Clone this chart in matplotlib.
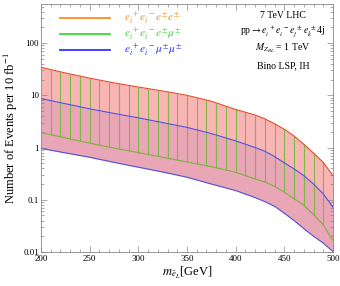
import numpy as np
import matplotlib.pyplot as plt
from matplotlib.ticker import MultipleLocator, LogLocator, FixedLocator, NullFormatter

plt.rcParams['font.family'] = ['Liberation Serif', 'DejaVu Serif']
plt.rcParams['mathtext.fontset'] = 'stix'

# slepton mass [GeV]
mass = [200, 225, 250, 275, 300, 325, 350, 375, 400, 420, 430, 440, 450, 460, 470, 480, 490, 500]

# events per 10 fb^-1
ee_upper = [34.4, 26.8, 21.3, 17.3, 14.4, 12.1, 10.0, 7.7, 5.35, 4.2, 3.55, 2.85, 2.24, 1.66, 1.16, 0.78, 0.52, 0.29]
mumu_upper = [8.65, 6.9, 5.5, 4.5, 3.7, 3.0, 2.43, 1.85, 1.34, 1.0, 0.85, 0.67, 0.51, 0.39, 0.29, 0.2, 0.13, 0.072]
emu_lower = [1.93, 1.53, 1.21, 0.98, 0.80, 0.65, 0.53, 0.43, 0.336, 0.25, 0.22, 0.18, 0.14, 0.105, 0.078, 0.052, 0.033, 0.0165]
mumu_lower = [0.96, 0.79, 0.65, 0.52, 0.42, 0.34, 0.27, 0.20, 0.15, 0.11, 0.092, 0.075, 0.055, 0.04, 0.028, 0.02, 0.0148, 0.0102]

hatch_x = np.arange(210, 500, 10)

fig = plt.figure(figsize=(3.4, 2.86), dpi=100)
ax = fig.add_axes([41 / 340, 34 / 286, 292 / 340, 248 / 286])

ax.fill_between(mass, mumu_upper, ee_upper, color='#f9b4b4', lw=0)
ax.fill_between(mass, mumu_lower, mumu_upper, color='#e8a6b6', lw=0)

# vertical hatching between the e-mu lower edge and the e-e upper edge
lo = 10 ** np.interp(hatch_x, mass, np.log10(emu_lower))
hi = 10 ** np.interp(hatch_x, mass, np.log10(ee_upper))
ax.vlines(hatch_x, lo, hi, color='#80b848', lw=0.8)

ax.plot(mass, ee_upper, color='#e0502c', lw=0.8)
ax.plot(mass, emu_lower, color='#80b040', lw=0.8)
ax.plot(mass, mumu_upper, color='#5050e0', lw=0.8)
ax.plot(mass, mumu_lower, color='#5050e0', lw=0.8)

ax.set_yscale('log')
ax.set_xlim(200, 500)
ax.set_ylim(0.01, 560)

ax.xaxis.set_major_locator(MultipleLocator(50))
ax.xaxis.set_minor_locator(MultipleLocator(10))
ax.yaxis.set_major_locator(FixedLocator([0.01, 0.1, 1, 10, 100]))
ax.yaxis.set_minor_locator(LogLocator(base=10, subs=np.arange(2, 10), numticks=20))
ax.yaxis.set_minor_formatter(NullFormatter())
ax.set_yticklabels(['0.01', '0.1', '1', '10', '100'])
ax.tick_params(which='both', direction='in', top=True, right=True, labelsize=6.5,
               color='#888888', width=0.5, pad=1.5)
ax.tick_params(axis='x', which='both', pad=2.5)
ax.tick_params(which='major', length=4)
ax.tick_params(which='minor', length=2)
for s in ax.spines.values():
    s.set_color('#888888')
    s.set_linewidth(0.6)

ax.set_xlabel(r'$m_{\tilde{e}_L}$[GeV]', fontsize=9, labelpad=1)
ax.set_ylabel(r'Number of Events per 10 fb$^{-1}$', fontsize=9, labelpad=2)

# legend
legend = [(r'$e_i^{\ +}e_i^{\ -}e^{\pm}e^{\pm}$', '#ff8c1a', 0.944),
          (r'$e_i^{\ +}e_i^{\ -}e^{\pm}\mu^{\pm}$', '#33dd33', 0.879),
          (r'$e_i^{\ +}e_i^{\ -}\mu^{\pm}\mu^{\pm}$', '#3333ff', 0.815)]
for label, c, yy in legend:
    ax.plot([0.065, 0.236], [yy, yy], color=c, lw=1.3, transform=ax.transAxes)
    ax.text(0.284, yy, label, color=c, fontsize=8.2, va='center', transform=ax.transAxes)

notes = ['7 TeV LHC',
         r'pp$\rightarrow e_i^{\ +}e_i^{\ -}e_j^{\ \pm}e_k^{\ \pm}$4j',
         r'$M_{Z_{BL}}$ = 1 TeV',
         'Bino LSP, IH']
for txt, yy in zip(notes, [0.955, 0.888, 0.82, 0.752]):
    ax.text(0.829, yy, txt, fontsize=7, ha='center', va='center', transform=ax.transAxes)

fig.savefig('out.png', dpi=100)
